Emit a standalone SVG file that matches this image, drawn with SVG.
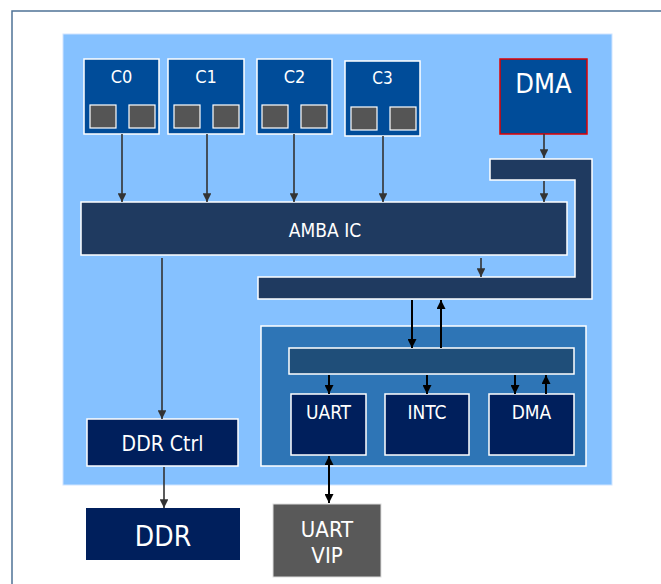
<svg xmlns="http://www.w3.org/2000/svg" width="661" height="584" viewBox="0 0 661 584">
<defs>
<style>
.t{font-family:'DejaVu Sans Condensed','DejaVu Sans',sans-serif;font-stretch:condensed;fill:#fff;text-anchor:middle}
.bx{stroke:#fff;stroke-width:1.5}
.c{fill:#004C99}
.sq{fill:#555;stroke:#fff;stroke-width:1.2}
.g{stroke:#333;stroke-width:1.6;fill:none}
.k{stroke:#000;stroke-width:2;fill:none}
</style>
<marker id="ag" viewBox="0 0 10 10" refX="10" refY="5" markerWidth="5.5" markerHeight="5.5" orient="auto-start-reverse" markerUnits="strokeWidth"><path d="M0,0L10,5L0,10z" fill="#333"/></marker>
<marker id="ak" viewBox="0 0 10 10" refX="10" refY="5" markerWidth="4.5" markerHeight="4.5" orient="auto-start-reverse" markerUnits="strokeWidth"><path d="M0,0L10,5L0,10z" fill="#000"/></marker>
</defs>
<rect x="0" y="0" width="661" height="584" fill="#fff"/>
<path d="M12,584V11H661" fill="none" stroke="#4F7396" stroke-width="1.5"/>
<rect id="soc" x="63" y="34" width="549" height="451" fill="#85C1FF" stroke="#CFE4FF" stroke-width="1"/>
<g id="c0"><rect class="c bx" x="84" y="59" width="75" height="75"/><rect class="sq" x="90" y="105" width="26" height="23"/><rect class="sq" x="129" y="105" width="26" height="23"/><text class="t" x="121.5" y="83" font-size="18">C0</text></g>
<g id="c1"><rect class="c bx" x="168" y="59" width="76" height="75"/><rect class="sq" x="174" y="105" width="26" height="23"/><rect class="sq" x="213" y="105" width="26" height="23"/><text class="t" x="206" y="83" font-size="18">C1</text></g>
<g id="c2"><rect class="c bx" x="257" y="59" width="75" height="75"/><rect class="sq" x="262" y="105" width="26" height="23"/><rect class="sq" x="301" y="105" width="26" height="23"/><text class="t" x="294.5" y="83" font-size="18">C2</text></g>
<g id="c3"><rect class="c bx" x="345" y="61" width="75" height="75"/><rect class="sq" x="351" y="107" width="26" height="23"/><rect class="sq" x="390" y="107" width="26" height="23"/><text class="t" x="382.5" y="84" font-size="17">C3</text></g>
<g id="dma0"><rect x="500" y="59" width="87" height="75" fill="#004C99" stroke="#E00000" stroke-width="1.5"/><text class="t" x="543.5" y="93" font-size="27">DMA</text></g>
<g id="bus"><polygon class="bx" fill="#1F3A60" points="490,159 592,159 592,299 258,299 258,277 575,277 575,180 490,180"/></g>
<g id="amba"><rect class="bx" fill="#1F3A60" x="81" y="202" width="486" height="53"/><text class="t" x="325" y="237" font-size="19">AMBA IC</text></g>
<g id="periph"><rect class="bx" fill="#2E75B6" x="261" y="326" width="325" height="140"/></g>
<g id="pbus"><rect class="bx" fill="#1F4E79" x="289" y="348" width="285" height="26"/></g>
<g id="uart"><rect class="bx" fill="#001F5C" x="291" y="394" width="75" height="61"/><text class="t" x="328.5" y="419" font-size="19">UART</text></g>
<g id="intc"><rect class="bx" fill="#001F5C" x="385" y="394" width="84" height="61"/><text class="t" x="427" y="419" font-size="19">INTC</text></g>
<g id="dma1"><rect class="bx" fill="#001F5C" x="489" y="394" width="85" height="61"/><text class="t" x="531.5" y="419" font-size="19">DMA</text></g>
<g id="ddrctrl"><rect class="bx" fill="#001F5C" x="87" y="419" width="151" height="47"/><text class="t" x="162.5" y="451" font-size="21">DDR Ctrl</text></g>
<g id="ddr"><rect fill="#001F5C" x="86" y="508" width="154" height="52"/><text class="t" x="163" y="546" font-size="28">DDR</text></g>
<g id="vip"><rect fill="#595959" stroke="#ddd" stroke-width="1" x="273" y="504" width="108" height="73"/><text class="t" x="327" y="537" font-size="22">UART</text><text class="t" x="327" y="563" font-size="22">VIP</text></g>
<g id="connectors">
<path class="g" d="M122,134V202" marker-end="url(#ag)"/>
<path class="g" d="M207,134V202" marker-end="url(#ag)"/>
<path class="g" d="M294,134V202" marker-end="url(#ag)"/>
<path class="g" d="M383,136V202" marker-end="url(#ag)"/>
<path class="g" d="M544,134V158" marker-end="url(#ag)"/>
<path class="g" d="M544,181V202" marker-end="url(#ag)"/>
<path class="g" d="M481,258V277" marker-end="url(#ag)"/>
<path class="g" d="M162,258V419" marker-end="url(#ag)"/>
<path class="g" d="M164,467V508" marker-end="url(#ag)"/>
<path class="k" d="M412,300V348" marker-end="url(#ak)"/>
<path class="k" d="M441,348V300" marker-end="url(#ak)"/>
<path class="k" d="M329,375V394" marker-end="url(#ak)"/>
<path class="k" d="M427,375V394" marker-end="url(#ak)"/>
<path class="k" d="M515,375V394" marker-end="url(#ak)"/>
<path class="k" d="M546,394V375" marker-end="url(#ak)"/>
<path class="k" d="M329,456V503" marker-start="url(#ak)" marker-end="url(#ak)"/>
</g>
</svg>
